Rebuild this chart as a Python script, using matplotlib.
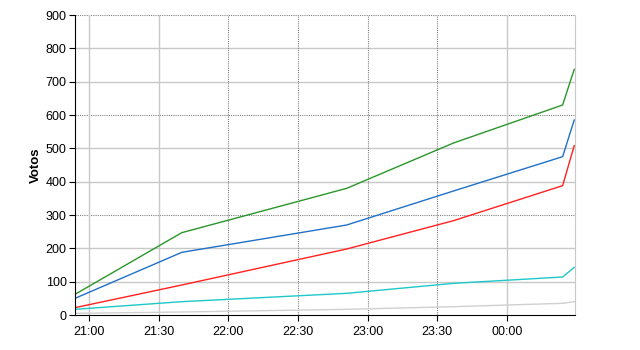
import matplotlib
matplotlib.use("Agg")
import matplotlib.pyplot as plt
import matplotlib.dates as mdates
from datetime import datetime

plt.rcParams['font.family'] = ['Liberation Sans', 'DejaVu Sans']

# sample times (hh:mm), after midnight rolls to next day
times = ["20:54", "21:40", "22:51", "23:37", "00:24", "00:29"]
green = [62, 247, 380, 516, 630, 737]
blue = [50, 188, 270, 372, 475, 585]
red = [22, 90, 198, 283, 388, 508]
cyan = [17, 40, 65, 95, 114, 143]
gray = [5, 9, 17, 25, 35, 40]

def to_dt(s):
    h, m = map(int, s.split(":"))
    day = 2 if h < 12 else 1
    return datetime(2020, 1, day, h, m)

x = [to_dt(t) for t in times]

fig = plt.figure(figsize=(6.4, 3.5), dpi=100)
ax = fig.add_axes([75 / 640, 35 / 350, 500 / 640, 300 / 350])

ax.plot(x, gray, color="#d0d0d0", lw=1)
ax.plot(x, cyan, color="#1ec8c8", lw=1)
ax.plot(x, red, color="#ff2020", lw=1)
ax.plot(x, blue, color="#2070c8", lw=1)
ax.plot(x, green, color="#2a962a", lw=1)

ax.set_xlim(datetime(2020, 1, 1, 20, 54), datetime(2020, 1, 2, 0, 29, 20))
ax.set_ylim(0, 900)
ax.set_yticks(range(0, 1000, 100))

xt = [datetime(2020, 1, 1, 21, 0), datetime(2020, 1, 1, 21, 30),
      datetime(2020, 1, 1, 22, 0), datetime(2020, 1, 1, 22, 30),
      datetime(2020, 1, 1, 23, 0), datetime(2020, 1, 1, 23, 30),
      datetime(2020, 1, 2, 0, 0)]
ax.set_xticks(xt)
ax.xaxis.set_major_formatter(mdates.DateFormatter("%H:%M"))

# grid: some solid light, some dotted dark
for v in [100, 200, 400, 500, 700, 800]:
    ax.axhline(v, color="#c8c8c8", lw=1, zorder=0)
for v in [300, 600, 900]:
    ax.axhline(v, color="#808080", lw=0.8, ls=(0, (1, 1)), zorder=0)
for i, t in enumerate(xt):
    if i in (0, 1, 6):
        ax.axvline(t, color="#c8c8c8", lw=1, zorder=0)
    else:
        ax.axvline(t, color="#808080", lw=0.8, ls=(0, (1, 1)), zorder=0)

ax.spines["top"].set_visible(False)
ax.spines["right"].set_color("#c8c8c8")
ax.spines["left"].set_color("black")
ax.spines["bottom"].set_color("black")

ax.tick_params(axis="both", labelsize=9, length=4, pad=2, direction="out", colors="black")
ax.tick_params(axis="x", pad=4)
ax.set_ylabel("Votos", fontsize=9.5, fontweight="bold")
ax.yaxis.set_label_coords(-0.066, 0.5)

fig.savefig("out.png", dpi=100)
